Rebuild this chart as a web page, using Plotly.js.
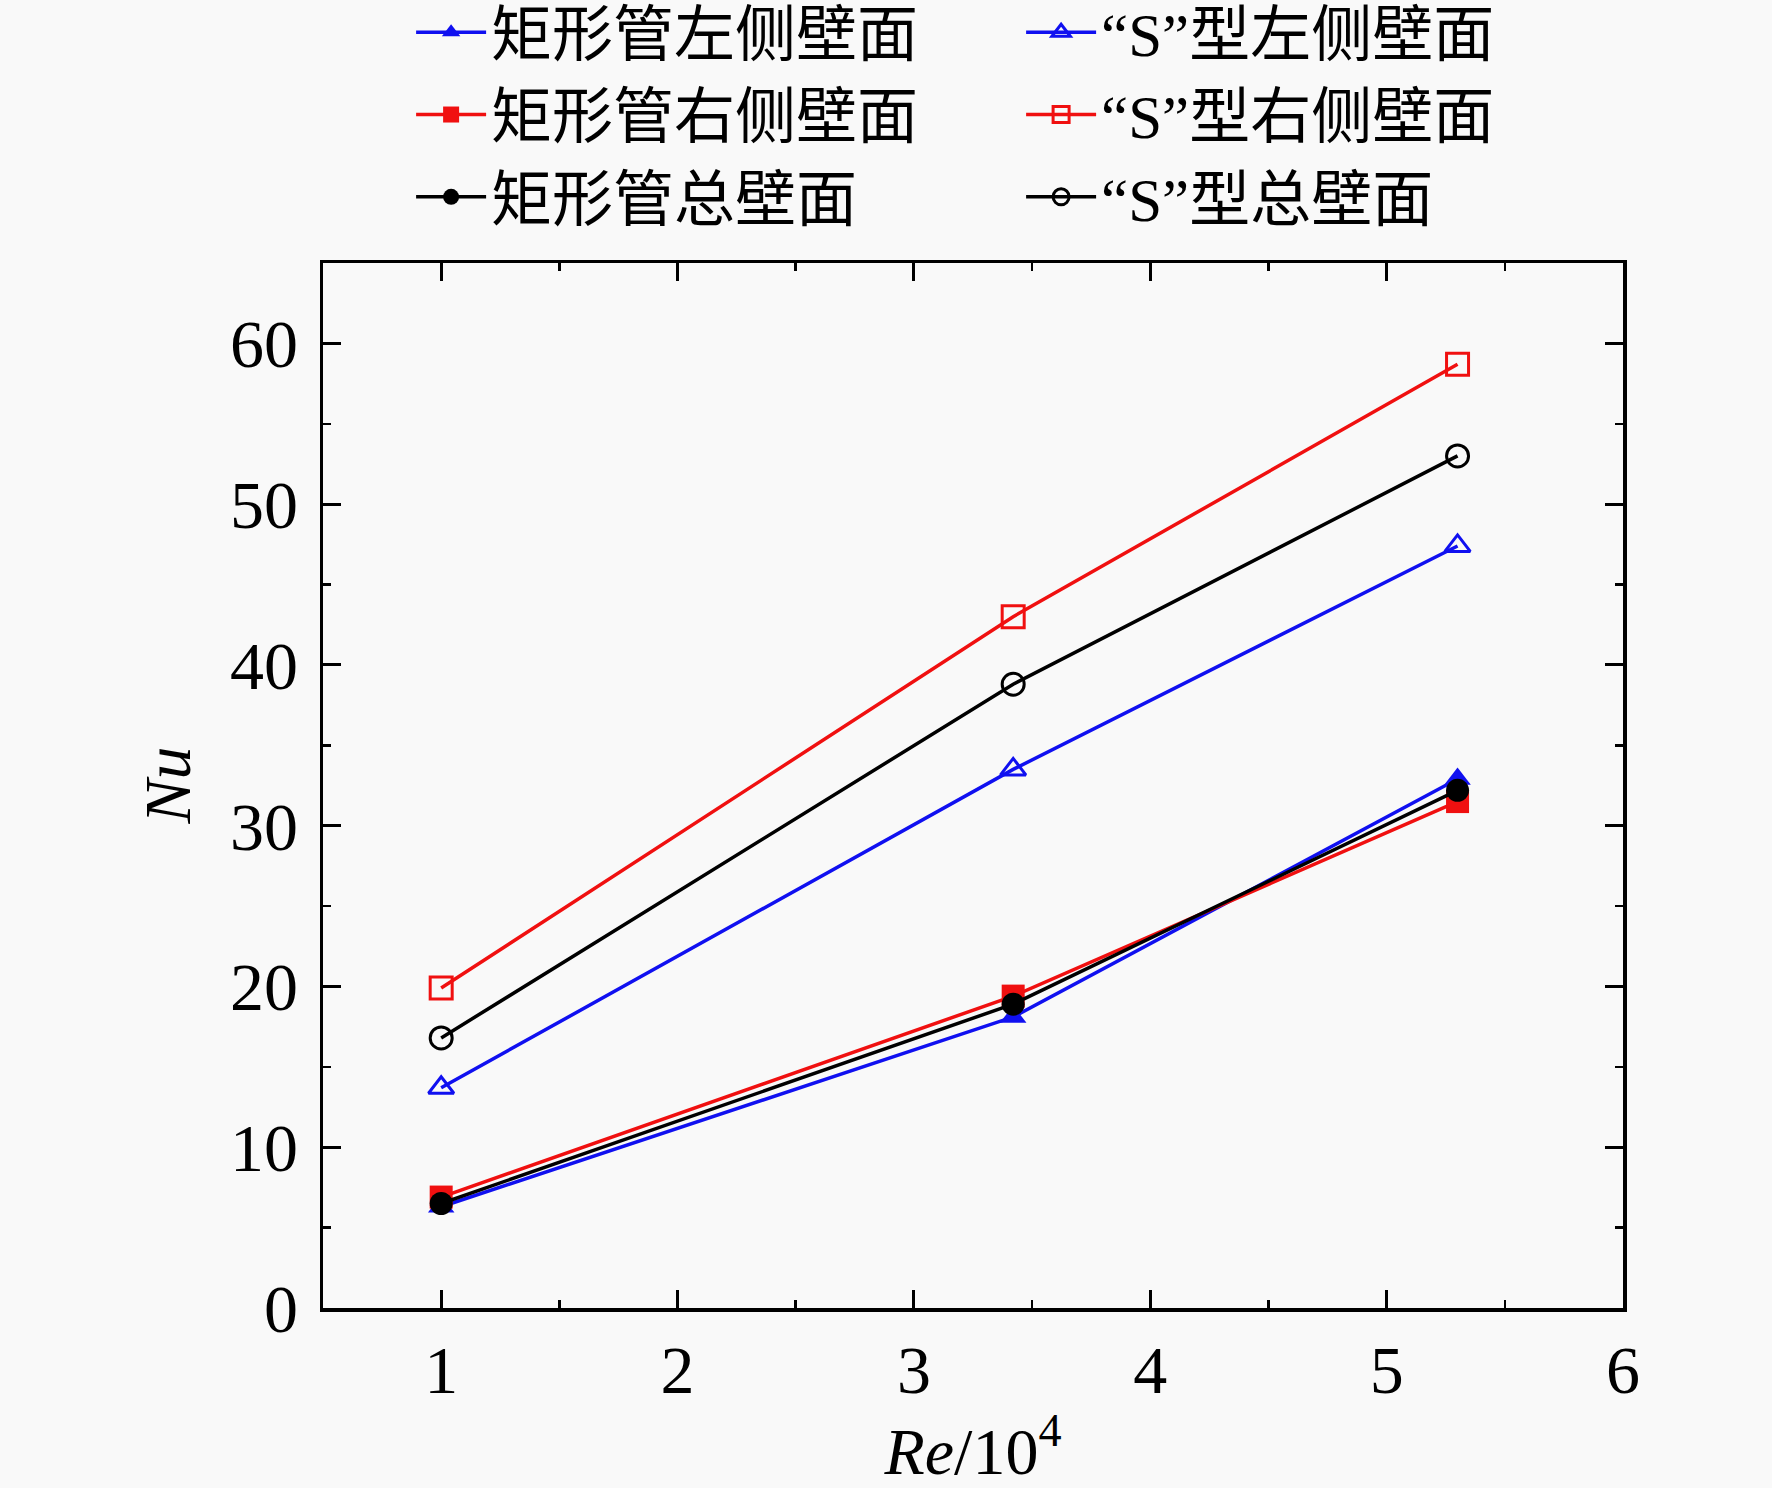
<!DOCTYPE html>
<html>
<head>
<meta charset="utf-8">
<script src="https://cdn.plot.ly/plotly-3.0.1.min.js"></script>
<style>html,body{margin:0;padding:0;background:#f9f9f9;}</style>
</head>
<body>
<div id="chart" style="width:1772px;height:1488px;"></div>
<script>
// Re / 10^4
const reValues = [1.0, 3.42, 5.3];
// Nu values
const rectLeft  = [6.3, 18.1, 32.9];
const sLeft     = [13.7, 33.5, 47.4];
const rectRight = [6.9, 19.4, 31.5];
const sRight    = [19.9, 43.0, 58.7];
const rectTotal = [6.5, 18.9, 32.2];
const sTotal    = [16.8, 38.8, 53.0];

const seriesNames = ['矩形管左侧壁面', '“S”型左侧壁面', '矩形管右侧壁面', '“S”型右侧壁面', '矩形管总壁面', '“S”型总壁面'];
const xTickVals = [1, 2, 3, 4, 5, 6];
const yTickVals = [0, 10, 20, 30, 40, 50, 60];
const xTitle = '<i>Re</i>/10<sup>4</sup>';
const yTitle = '<i>Nu</i>';

const BLUE = '#1010f0', RED = '#f01010', BLACK = '#000000';

function mk(y, name, color, symbol, open) {
  return {
    x: reValues, y: y, name: name, type: 'scatter', mode: 'lines+markers',
    line: {color: color, width: 3.5},
    marker: {
      symbol: symbol, size: open ? 22 : 23,
      color: color,
      line: {color: color, width: open ? 3 : 0}
    }
  };
}

const data = [
  mk(rectLeft,  seriesNames[0], BLUE,  'triangle-up', false),
  mk(sLeft,     seriesNames[1], BLUE,  'triangle-up-open', true),
  mk(rectRight, seriesNames[2], RED,   'square', false),
  mk(sRight,    seriesNames[3], RED,   'square-open', true),
  mk(rectTotal, seriesNames[4], BLACK, 'circle', false),
  mk(sTotal,    seriesNames[5], BLACK, 'circle-open', true)
];

const serif = 'Liberation Serif, Times New Roman, serif';
const axisCommon = {
  showline: true, linecolor: '#000', linewidth: 3.5, mirror: 'ticks',
  ticks: 'inside', ticklen: 18, tickwidth: 3, tickcolor: '#000',
  showgrid: false, zeroline: false,
  tickfont: {family: serif, size: 68, color: '#000'}
};

const layout = {
  width: 1772, height: 1488,
  paper_bgcolor: '#f9f9f9', plot_bgcolor: '#f9f9f9',
  margin: {l: 323, r: 149, t: 263, b: 180, autoexpand: false},
  showlegend: true,
  legend: {
    orientation: 'h', xref: 'container', yref: 'paper',
    x: 0.232, y: 1.265, xanchor: 'left', yanchor: 'top',
    entrywidth: 525, entrywidthmode: 'pixels',
    itemwidth: 70,
    font: {family: 'Liberation Serif, Noto Sans CJK SC, serif', size: 61, color: '#000'},
    bgcolor: 'rgba(0,0,0,0)', tracegroupgap: 0
  },
  xaxis: Object.assign({}, axisCommon, {
    range: [0.5, 6], tickvals: xTickVals, ticktext: xTickVals.map(String),
    ticklabelstandoff: 0, automargin: false,
    minor: {ticks: 'inside', ticklen: 8, tickwidth: 2.5, tickcolor: '#000', dtick: 0.5, tick0: 0.5},
    title: {text: xTitle, font: {family: serif, size: 66, color: '#000'}}
  }),
  yaxis: Object.assign({}, axisCommon, {
    range: [0, 65], tickvals: yTickVals, ticktext: yTickVals.map(String),
    ticklabelstandoff: 8, automargin: false, side: 'left',
    minor: {ticks: 'inside', ticklen: 8, tickwidth: 2.5, tickcolor: '#000', dtick: 5, tick0: 0}
  }),
  annotations: [{
    text: yTitle, xref: 'paper', yref: 'paper', x: -0.12, y: 0.5,
    xanchor: 'center', yanchor: 'middle', textangle: -90, showarrow: false,
    font: {family: serif, size: 66, color: '#000'}
  }]
};

Plotly.newPlot('chart', data, layout, {displayModeBar: false, staticPlot: true});
</script>
</body>
</html>
